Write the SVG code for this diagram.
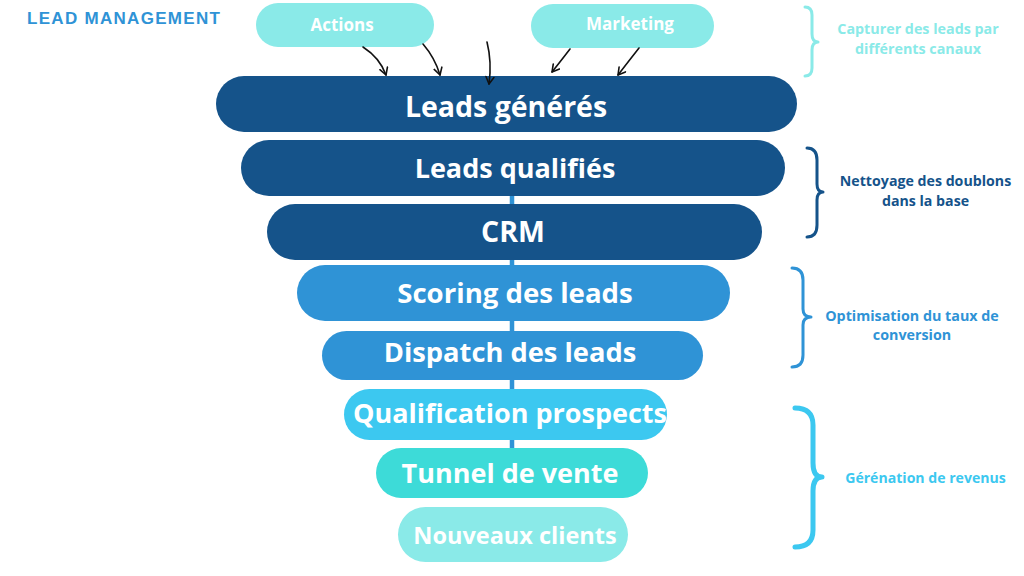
<svg xmlns="http://www.w3.org/2000/svg" width="1024" height="576" viewBox="0 0 1024 576">
<defs>
<marker id="ah" viewBox="0 0 10 10" refX="8" refY="5" markerWidth="10" markerHeight="10" markerUnits="userSpaceOnUse" orient="auto">
<path d="M1,1 L8,5 L1,9" fill="none" stroke="#111" stroke-width="1.6" stroke-linecap="round" stroke-linejoin="round"/>
</marker>
<style>
.pt{font-family:"Open Sans","Noto Sans",sans-serif;font-weight:700;fill:#ffffff;text-anchor:middle}
.st{font-family:"Open Sans","Noto Sans",sans-serif;font-weight:700;font-size:17px;fill:#ffffff;text-anchor:middle}
.nt{font-family:"Open Sans","Noto Sans",sans-serif;font-weight:700;text-anchor:middle}
.br{fill:none;stroke-linecap:round;stroke-linejoin:round}
.ar{fill:none;stroke:#111;stroke-width:1.6;stroke-linecap:round}
</style>
</defs>
<rect width="1024" height="576" fill="#ffffff"/>
<text x="27" y="24" font-family="Liberation Sans,Arial,sans-serif" font-weight="700" font-size="17" letter-spacing="1.3" fill="#2f93d6">LEAD MANAGEMENT</text>

<g id="spine"><line x1="512" y1="190" x2="512" y2="452" stroke="#2f93d6" stroke-width="4.5"/></g>

<g id="actions"><rect x="256" y="3" width="178" height="44" rx="22" fill="#8aeae8"/><text class="st" x="342" y="31">Actions</text></g>
<g id="marketing"><rect x="531" y="4" width="183" height="44" rx="22" fill="#8aeae8"/><text class="st" x="630" y="30">Marketing</text></g>

<g id="n1"><rect x="216" y="76" width="581" height="56" rx="28" fill="#15538a"/><text class="pt" font-size="28.5" x="506" y="117">Leads générés</text></g>
<g id="n2"><rect x="241" y="140" width="544" height="56" rx="28" fill="#15538a"/><text class="pt" font-size="27" x="515" y="178">Leads qualifiés</text></g>
<g id="n3"><rect x="267" y="204" width="495" height="56" rx="28" fill="#15538a"/><text class="pt" font-size="28.5" x="513" y="242">CRM</text></g>
<g id="n4"><rect x="297" y="265" width="433" height="56" rx="28" fill="#2f93d6"/><text class="pt" font-size="27.6" x="515" y="303">Scoring des leads</text></g>
<g id="n5"><rect x="322" y="331" width="381" height="49" rx="24.5" fill="#2f93d6"/><text class="pt" font-size="27.3" x="510" y="362">Dispatch des leads</text></g>
<g id="n6"><rect x="344" y="389" width="323" height="51" rx="25.5" fill="#3cc8f0"/><text class="pt" font-size="27" x="510" y="423">Qualification prospects</text></g>
<g id="n7"><rect x="376" y="448" width="272" height="50" rx="25" fill="#3ddbd8"/><text class="pt" font-size="27" x="510" y="483">Tunnel de vente</text></g>
<g id="n8"><rect x="398" y="507" width="230" height="55" rx="27.5" fill="#8aeae8"/><text class="pt" font-size="23.5" x="515" y="544">Nouveaux clients</text></g>

<g id="connectors">
<path class="ar" d="M363,47 Q380,58 386,75" marker-end="url(#ah)"/>
<path class="ar" d="M423,44 Q435,58 440,75" marker-end="url(#ah)"/>
<path class="ar" d="M487,42 Q492,62 489,84" marker-end="url(#ah)"/>
<path class="ar" d="M570,49 Q560,62 552,72" marker-end="url(#ah)"/>
<path class="ar" d="M639,48 Q628,62 618,75" marker-end="url(#ah)"/>
</g>

<g id="brace1"><path class="br" stroke="#8aeae8" stroke-width="3" d="M805,7 Q812,7 812,15 L812,34 Q812,42 818,42 Q812,42 812,50 L812,68 Q812,76 805,76"/>
<text class="nt" font-size="14.3" fill="#8aeae8" x="918" y="34">Capturer des leads par</text><text class="nt" font-size="14.3" fill="#8aeae8" x="918" y="54">différents canaux</text></g>
<g id="brace2"><path class="br" stroke="#15538a" stroke-width="3" d="M807,148 Q817,148 817,160 L817,184 Q817,192 823,192 Q817,192 817,200 L817,225 Q817,237 807,237"/>
<text class="nt" font-size="14.2" fill="#15538a" x="925.5" y="186">Nettoyage des doublons</text><text class="nt" font-size="14.2" fill="#15538a" x="925.5" y="206">dans la base</text></g>
<g id="brace3"><path class="br" stroke="#2f93d6" stroke-width="3" d="M792,268 Q803,268 803,280 L803,309 Q803,317 811,317 Q803,317 803,325 L803,355 Q803,367 792,367"/>
<text class="nt" font-size="14.3" fill="#2f93d6" x="912" y="321">Optimisation du taux de</text><text class="nt" font-size="14.3" fill="#2f93d6" x="912" y="340">conversion</text></g>
<g id="brace4"><path class="br" stroke="#3cc8f0" stroke-width="5" d="M795,408 Q813,408 813,425 L813,463 Q813,477 822,477 Q813,477 813,491 L813,530 Q813,547 795,547"/>
<text class="nt" font-size="14.1" fill="#3cc8f0" x="925.5" y="483">Gérénation de revenus</text></g>
</svg>
